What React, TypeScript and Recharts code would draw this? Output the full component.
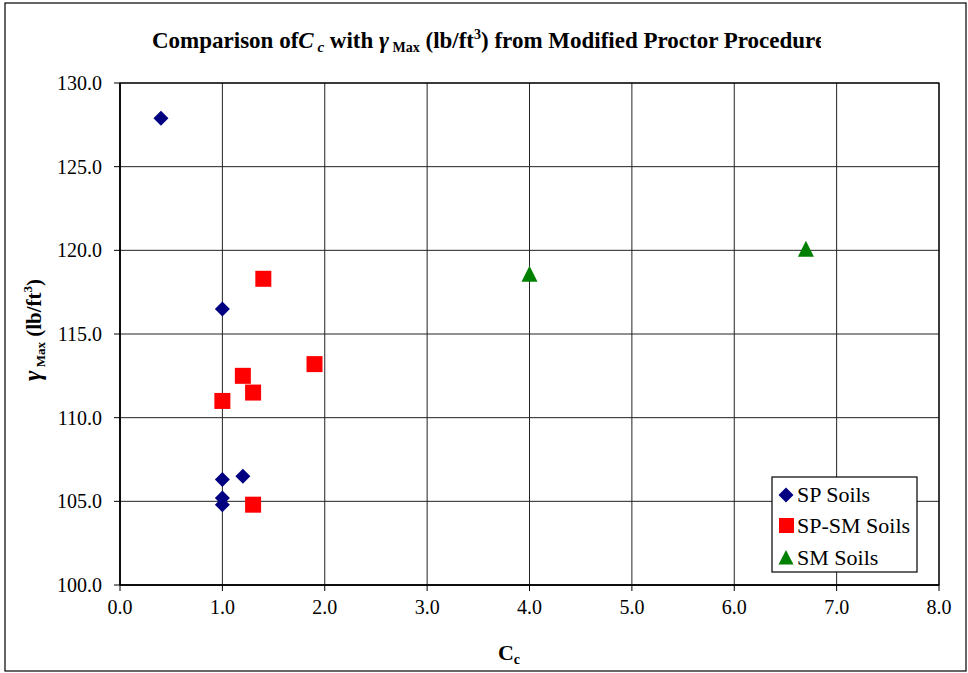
import React from "react";
import { ScatterChart, Scatter, XAxis, YAxis, CartesianGrid } from "recharts";

const spCc = [0.4, 1.0, 1.0, 1.2, 1.0, 1.0];
const spGamma = [127.9, 116.5, 106.3, 106.5, 105.2, 104.8];
const spsmCc = [1.4, 1.2, 1.3, 1.0, 1.9, 1.3];
const spsmGamma = [118.3, 112.5, 111.5, 111.0, 113.2, 104.8];
const smCc = [4.0, 6.7];
const smGamma = [118.6, 120.1];

const xTicks = [0, 1, 2, 3, 4, 5, 6, 7, 8];
const yTicks = [100, 105, 110, 115, 120, 125, 130];

const seriesNames = ["SP Soils", "SP-SM Soils", "SM Soils"];
const seriesColors = ["#000080", "#FF0000", "#008000"];

const toPoints = (xs: number[], ys: number[]) => xs.map((x, i) => ({ x, y: ys[i] }));
const spData = toPoints(spCc, spGamma);
const spsmData = toPoints(spsmCc, spsmGamma);
const smData = toPoints(smCc, smGamma);

const FONT = "Liberation Serif";
const txt = (size: number, bold = false, italic = false): React.CSSProperties => ({
  fontFamily: FONT,
  fontSize: size,
  fontWeight: bold ? "bold" : "normal",
  fontStyle: italic ? "italic" : "normal",
});

const Diamond = (props: any) => {
  const { cx, cy, fill } = props;
  const r = 7.5;
  return <polygon points={`${cx},${cy - r} ${cx + r},${cy} ${cx},${cy + r} ${cx - r},${cy}`} fill={fill} />;
};
const Square = (props: any) => {
  const { cx, cy, fill } = props;
  const r = 8;
  return <rect x={cx - r} y={cy - r} width={2 * r} height={2 * r} fill={fill} />;
};
const Triangle = (props: any) => {
  const { cx, cy, fill } = props;
  const r = 8;
  return <polygon points={`${cx},${cy - r} ${cx + r},${cy + r} ${cx - r},${cy + r}`} fill={fill} />;
};

const XTick = (props: any) => {
  const { x, y, payload } = props;
  return (
    <text x={x} y={y + 21} textAnchor="middle" fill="#000" style={txt(20)}>
      {Number(payload.value).toFixed(1)}
    </text>
  );
};
const YTick = (props: any) => {
  const { x, y, payload } = props;
  return (
    <text x={x} y={y + 7} textAnchor="end" fill="#000" style={txt(20)}>
      {Number(payload.value).toFixed(1)}
    </text>
  );
};

export default function App() {
  const W = 968;
  const H = 673;
  return (
    <div style={{ position: "absolute", left: 0, top: 0, width: W, height: H, background: "#fff" }}>
      <ScatterChart width={W} height={H} margin={{ top: 83, right: 29, left: 0, bottom: 0 }}>
        <CartesianGrid stroke="#222" strokeWidth={1} horizontal vertical />
        <XAxis
          type="number"
          dataKey="x"
          domain={[0, 8]}
          ticks={xTicks}
          allowDataOverflow
          height={88}
          tickSize={6}
          tickMargin={2}
          tick={<XTick />}
          axisLine={{ stroke: "#000", strokeWidth: 1.5 }}
          tickLine={{ stroke: "#000" }}
        />
        <YAxis
          type="number"
          dataKey="y"
          domain={[100, 130]}
          ticks={yTicks}
          allowDataOverflow
          width={120}
          tickSize={6}
          tickMargin={12}
          tick={<YTick />}
          axisLine={{ stroke: "#000", strokeWidth: 1.5 }}
          tickLine={{ stroke: "#000" }}
        />
        <Scatter name={seriesNames[0]} data={spData} fill={seriesColors[0]} shape={Diamond} isAnimationActive={false} />
        <Scatter name={seriesNames[1]} data={spsmData} fill={seriesColors[1]} shape={Square} isAnimationActive={false} />
        <Scatter name={seriesNames[2]} data={smData} fill={seriesColors[2]} shape={Triangle} isAnimationActive={false} />
      </ScatterChart>
      <svg width={W} height={H} style={{ position: "absolute", left: 0, top: 0, pointerEvents: "none" }}>
        <rect x={5} y={3} width={961} height={668} fill="none" stroke="#000" strokeWidth={1.2} />
        <rect x={120} y={83} width={819} height={502} fill="none" stroke="#000" strokeWidth={1.2} />
        <defs>
          <clipPath id="titleClip">
            <rect x={0} y={0} width={821} height={80} />
          </clipPath>
        </defs>
        <text x={152} y={48} fill="#000" clipPath="url(#titleClip)" style={txt(23, true)}>
          <tspan>Comparison of</tspan>
          <tspan style={txt(23, true, true)}>C</tspan>
          <tspan style={txt(15, true, true)} dy={4}> c</tspan>
          <tspan dy={-4}>  with </tspan>
          <tspan style={txt(24, true, true)}>γ</tspan>
          <tspan style={txt(14, true)} dy={4}> Max</tspan>
          <tspan dy={-4}> (lb/ft</tspan>
          <tspan style={txt(14, true)} dy={-9}>3</tspan>
          <tspan dy={9}>) from Modified Proctor Procedure</tspan>
        </text>
        <text x={509} y={660} fill="#000" textAnchor="middle" style={txt(22, true)}>
          <tspan>C</tspan>
          <tspan style={txt(14, true)} dy={4}>c</tspan>
        </text>
        <g transform="translate(41,330) rotate(-90)">
          <text x={0} y={0} fill="#000" textAnchor="middle" style={txt(21, true)}>
            <tspan style={txt(25, true, true)}>γ</tspan>
            <tspan style={txt(13, true)} dy={4}>  Max</tspan>
            <tspan dy={-4}>  (lb/ft</tspan>
            <tspan style={txt(13, true)} dy={-9}>3</tspan>
            <tspan dy={9}>)</tspan>
          </text>
        </g>
        <rect x={772} y={477} width={145} height={95} fill="#fff" stroke="#000" strokeWidth={1.2} />
        <Diamond cx={786} cy={495} fill={seriesColors[0]} />
        <text x={797} y={502} fill="#000" style={txt(22)}>{seriesNames[0]}</text>
        <rect x={779} y={518} width={15} height={15} fill={seriesColors[1]} />
        <text x={797} y={533} fill="#000" style={txt(22)}>{seriesNames[1]}</text>
        <polygon points="786,550 793.5,564.5 778.5,564.5" fill={seriesColors[2]} />
        <text x={797} y={565} fill="#000" style={txt(22)}>{seriesNames[2]}</text>
      </svg>
    </div>
  );
}
